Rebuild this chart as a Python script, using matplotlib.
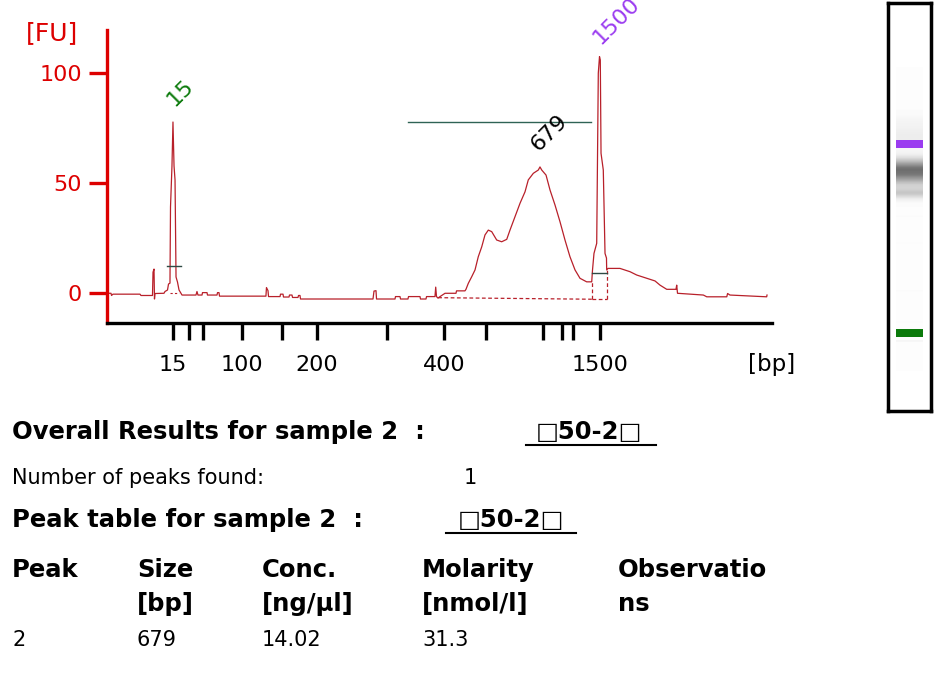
import numpy as np
import matplotlib.pyplot as plt
from matplotlib.patches import Rectangle

# ladder (DNA 1000) : sizes and migration positions on the x axis
ladder_bp = [15, 25, 50, 100, 150, 200, 300, 400, 500, 700, 850, 1000, 1500]
ladder_t = [9.92, 12.3, 14.4, 20.3, 26.3, 31.6, 42.1, 50.7, 57.0, 65.6, 68.4, 70.1, 74.1]
labelled_bp = [15, 100, 200, 400, 1500]

# electropherogram trace (time, fluorescence units)
trace_t = [0.15, 0.6, 0.68, 0.9, 4.96, 5.11, 6.84, 6.92, 7.07, 7.14, 7.22, 8.57, 8.72, 9.1,
           9.25, 9.47, 9.55, 9.77, 9.92, 10.08, 10.23, 10.38, 10.6, 10.83, 11.13, 11.28,
           13.38, 13.53, 13.68, 14.29, 14.36, 15.04, 15.11, 16.54, 16.62, 16.84, 16.92,
           23.9, 23.98, 24.21, 24.29, 26.02, 26.09, 26.47, 26.54, 27.37, 27.44, 27.82,
           27.9, 28.72, 28.8, 29.02, 29.1, 40.0, 40.15, 40.45, 40.53, 43.31, 43.38, 44.06,
           44.14, 45.26, 45.34, 47.07, 47.14, 47.97, 48.05, 49.32, 49.43, 49.55, 49.77,
           50.08, 50.83, 52.48, 52.56, 53.83, 53.98, 54.33, 54.84, 55.34, 55.83, 56.35,
           56.84, 57.34, 57.85, 58.6, 59.35, 60.11, 60.6, 61.35, 62.11, 62.86, 63.35,
           64.11, 64.86, 65.11, 65.37, 66.02, 66.62, 67.37, 68.12, 68.87, 69.62, 70.38,
           71.13, 72.13, 72.89, 73.01, 73.23, 73.64, 73.88, 74.06, 74.18, 74.29, 74.63,
           74.89, 75.11, 75.14, 75.34, 77.14, 78.65, 79.65, 81.16, 82.41, 83.16, 84.17,
           85.56, 85.67, 85.79, 89.68, 90.19, 93.2, 93.32, 93.68, 99.2, 99.25]
trace_fu = [-0.1, -0.1, -1.1, -0.5, -0.5, -1.1, -1.1, 9.5, 10.9, -2.7, -0.2, -0.1, 0.7, 1.4,
            4.1, 4.5, 39.1, 57.7, 77.7, 57.7, 51.4, 7.3, 5.0, 1.4, -0.1, -0.9,
            -0.9, 0.7, -0.9, -0.9, 0.2, 0.2, -0.9, -0.9, 0.2, 0.2, -1.4,
            -1.4, 2.5, 1.1, -1.6, -1.6, -0.5, -0.5, -1.8, -1.8, -0.9, -0.9,
            -2.0, -2.0, -1.1, -1.1, -2.7, -2.7, 0.9, 1.1, -2.7, -2.7, -1.6, -1.6,
            -2.7, -2.7, -1.6, -1.6, -2.7, -2.7, -1.6, -1.6, 2.7, -1.6, -2.3,
            -1.6, -0.1, -0.1, 1.0, 1.0, 1.7, 4.4, 7.4, 10.5, 16.5, 21.0,
            26.4, 28.6, 27.9, 24.1, 23.3, 24.4, 28.6, 34.7, 40.8, 46.0, 51.4,
            54.4, 55.9, 57.3, 55.9, 53.6, 46.8, 40.0, 32.4, 24.1, 16.5, 10.5,
            6.7, 5.1, 5.1, 10.5, 18.0, 22.6, 99.9, 107.4, 105.9, 63.5, 55.9,
            18.0, 15.9, 10.5, 11.2, 11.2, 9.7, 8.2, 6.7, 5.5, 3.6, 1.7,
            1.7, 3.6, -0.1, -0.9, -1.7, -1.7, -0.2, -0.9, -1.7, -0.9]

# called peaks: (time, FU, label, colour)
peaks_t = [9.92, 65.11, 74.06]
peaks_fu = [77.7, 57.3, 107.4]
peaks_label = ["15", "679", "1500"]
peaks_color = ["#0b7a0b", "black", "#9b3cf0"]
peaks_offset = [(3, 9), (1, 9), (3, 6)]

# smear region and peak baselines
region_t = [45.2, 72.8]
region_fu = 77.6
marker_lines = [([9.02, 11.13], 12.3), ([72.9, 75.14], 9.2)]
baseline_t = [49.8, 72.9]
baseline_fu = [-2.1, -2.8]

red = "#dd0000"
trace_col = "#b8202a"

fig = plt.figure(figsize=(9.34, 6.99), dpi=100)
ax = fig.add_axes([107 / 934, 1 - 323 / 699, 665 / 934, 293 / 699])

ax.plot(trace_t, trace_fu, color=trace_col, lw=0.9)
ax.plot(baseline_t, baseline_fu, color=trace_col, lw=0.9, ls=(0, (3, 2)))
ax.plot([baseline_t[1], baseline_t[1]], [baseline_fu[1], 5.1], color=trace_col, lw=0.9, ls=(0, (3, 2)))
ax.plot([72.9, 75.14], [-2.8, -2.8], color=trace_col, lw=0.9, ls=(0, (3, 2)))
ax.plot([75.14, 75.14], [-2.8, 10.5], color=trace_col, lw=0.9, ls=(0, (3, 2)))
ax.plot([9.47, 10.83], [-0.1, -0.1], color=trace_col, lw=0.8, ls=(0, (2, 2)))

ax.plot(region_t, [region_fu, region_fu], color="#2f6355", lw=1)
for xs, yv in marker_lines:
    ax.plot(xs, [yv, yv], color="#2f4a44", lw=1)

for t, f, lab, c, off in zip(peaks_t, peaks_fu, peaks_label, peaks_color, peaks_offset):
    ax.annotate(lab, (t, f), xytext=off, textcoords="offset points",
                rotation=45, rotation_mode="anchor", ha="left", va="bottom",
                fontsize=16, color=c, annotation_clip=False)

ax.set_xlim(0, 100)
ax.set_ylim(-13.6, 119.5)
ax.set_yticks([0, 50, 100])
ax.set_xticks(ladder_t)
ax.set_xticklabels([str(b) if b in labelled_bp else "" for b in ladder_bp])

for s in ["top", "right"]:
    ax.spines[s].set_visible(False)
ax.spines["left"].set_color(red)
ax.spines["left"].set_linewidth(2.4)
ax.spines["bottom"].set_linewidth(2.4)
ax.tick_params(axis="y", colors=red, length=13, width=2.4, labelsize=16, pad=5)
ax.tick_params(axis="x", colors="black", length=12, width=2.4, labelsize=16, pad=11)

fig.text(26 / 934, 1 - 33 / 699, "[FU]", color=red, fontsize=18, va="center")
fig.text(748 / 934, 1 - 365 / 699, "[bp]", color="black", fontsize=16.5, va="center")

# gel lane
gax = fig.add_axes([888 / 934, 1 - 411 / 699, 43 / 934, 408 / 699])
gel_y = np.linspace(-3, 100, 400)
lane = np.interp(gel_y, trace_t, trace_fu).clip(0, None) + 1.5
gax.imshow(lane[:, None], cmap="Greys", vmin=0, vmax=90, aspect="auto",
           extent=[8, 35, -3, 100], origin="lower", interpolation="bilinear")
gax.add_patch(Rectangle((8, peaks_t[2] - 1.3), 27, 2.6, color=peaks_color[2], lw=0))
gax.add_patch(Rectangle((8, peaks_t[0] - 1.3), 27, 2.6, color="#0b7a0b", lw=0))
gax.set_xlim(0, 43)
gax.set_ylim(-16.6, 122)
gax.set_xticks([])
gax.set_yticks([])
for s in gax.spines.values():
    s.set_linewidth(2.5)

# results text
fig.text(12 / 934, 1 - 432 / 699, "Overall Results for sample 2  :", fontsize=17.5,
         fontweight="bold", va="center")
fig.text(536 / 934, 1 - 432 / 699, "□50-2□", fontsize=17.5, fontweight="bold", va="center")
fig.add_artist(plt.Line2D([526 / 934, 656 / 934], [1 - 445 / 699] * 2, color="black", lw=1.5))
fig.text(12 / 934, 1 - 478 / 699, "Number of peaks found:", fontsize=15, va="center")
fig.text(464 / 934, 1 - 478 / 699, "1", fontsize=15, va="center")
fig.text(12 / 934, 1 - 520 / 699, "Peak table for sample 2  :", fontsize=17.5,
         fontweight="bold", va="center")
fig.text(458 / 934, 1 - 520 / 699, "□50-2□", fontsize=17.5, fontweight="bold", va="center")
fig.add_artist(plt.Line2D([446 / 934, 576 / 934], [1 - 533 / 699] * 2, color="black", lw=1.5))

col_x = [12, 137, 262, 422, 618]
head1 = ["Peak", "Size", "Conc.", "Molarity", "Observatio"]
head2 = ["", "[bp]", "[ng/µl]", "[nmol/l]", "ns"]
row = ["2", "679", "14.02", "31.3", ""]
for x, h1, h2, r in zip(col_x, head1, head2, row):
    fig.text(x / 934, 1 - 570 / 699, h1, fontsize=17.5, fontweight="bold", va="center")
    fig.text(x / 934, 1 - 604 / 699, h2, fontsize=17.5, fontweight="bold", va="center")
    fig.text(x / 934, 1 - 640 / 699, r, fontsize=15, va="center")

fig.savefig("out.png", dpi=100)
